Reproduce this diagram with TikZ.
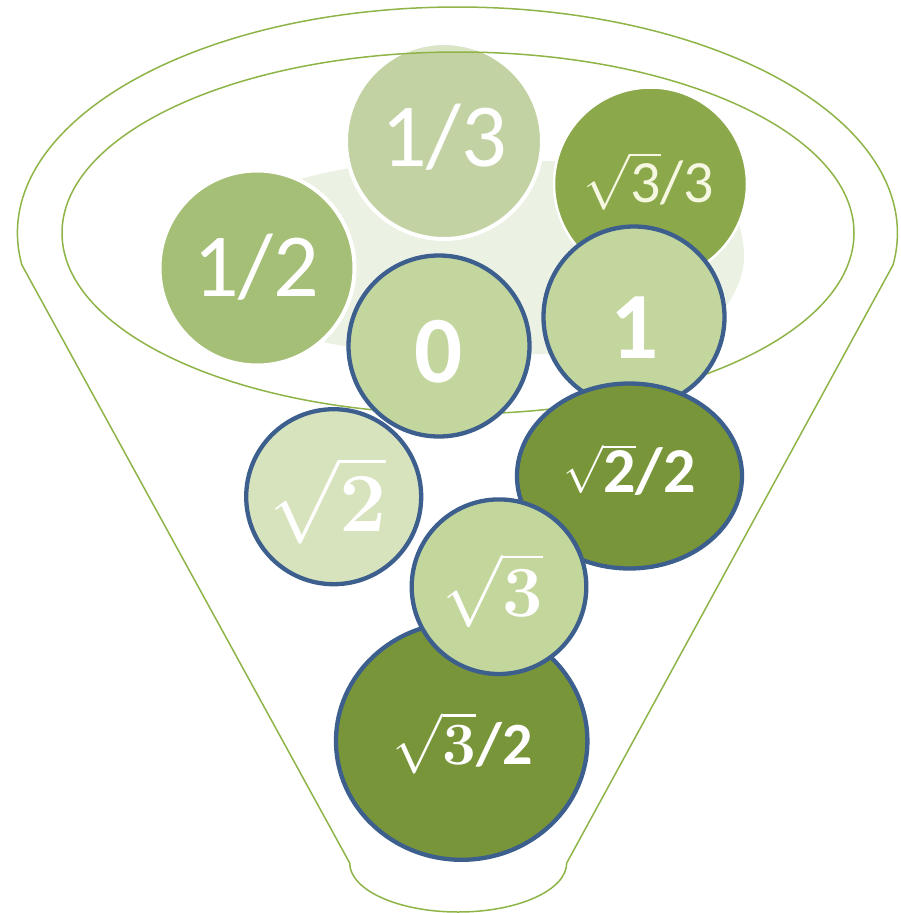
\documentclass[tikz,border=0pt]{standalone}
\usepackage{fix-cm}
\usepackage{fontspec}
\newfontfamily\carl{Carlito}
\usetikzlibrary{shapes.geometric}
\definecolor{fline}{RGB}{142,180,72}
\definecolor{bblue}{RGB}{60,95,142}
\definecolor{blobc}{RGB}{235,241,227}
\definecolor{cA}{RGB}{194,210,163}
\definecolor{cB}{RGB}{139,168,75}
\definecolor{cC}{RGB}{166,191,119}
\definecolor{cD}{RGB}{195,214,158}
\definecolor{cE}{RGB}{120,149,57}
\definecolor{cF}{RGB}{215,227,189}
\definecolor{cG}{RGB}{195,214,156}
\definecolor{cream}{RGB}{245,247,225}
\newcommand\ct[3]{\smash{\raisebox{\dimexpr-0.316em-#2pt\relax}{\kern#1pt\kern#1pt#3}}}
\tikzset{
  ball/.style={circle, inner sep=0pt, outer sep=0pt, text=white},
  wball/.style={ball, draw=white, line width=4pt},
  bball/.style={ball, draw=bblue, line width=4.3pt},
  bell/.style={ellipse, inner sep=0pt, outer sep=0pt, text=white, draw=bblue, line width=4.3pt},
  funnel/.style={draw=fline, line width=1.5pt},
}
\begin{document}
\begin{tikzpicture}[x=1pt,y=-1pt]
\useasboundingbox (0,0) rectangle (900,913);
% pale background blob
\fill[blobc] (200,258) .. controls (200,204.5) and (307.5,161) .. (440,161) -- (660,161)
  .. controls (720,161) and (745,220) .. (744,258)
  .. controls (743,300) and (700,354) .. (620,354) -- (440,354)
  .. controls (307.5,354) and (200,311.5) .. (200,258) -- cycle;
% upper balls
\node[wball, fill=cA, minimum size=196pt, font=\carl\fontsize{90}{90}\selectfont] (n13) at (444,141) {\ct{0}{-2.5}{1/3}};
\begin{scope}
  \clip (444,141) circle[radius=98];
  \fill[white, opacity=.4, even odd rule] (0,0) rectangle (900,913) (458,233) ellipse[x radius=396, y radius=181];
\end{scope}
\node[ball, draw=white, line width=2.5pt, fill=cB, text=cream, minimum size=193pt, font=\fontsize{56}{56}\selectfont] (n33) at (650.5,184) {\ct{-1.5}{1}{$\sqrt{\hbox{\carl\fontsize{60}{60}\selectfont 3}}${\carl\fontsize{60}{60}\selectfont/3}}};
\node[wball, fill=cC, minimum size=195pt, font=\carl\fontsize{90}{90}\selectfont] (n12) at (257,268) {\ct{-1}{0}{1/2}};
% funnel
\draw[funnel] (21.9,265) arc[start angle=171.86, end angle=368.14, x radius=440, y radius=226]
  -- (566.7,863) arc[start angle=0, end angle=180, x radius=108.5, y radius=49] -- cycle;
\draw[funnel] (458,233) ellipse[x radius=396, y radius=181];
% lower balls
\node[bball, fill=cD, minimum size=181pt, font=\carl\bfseries\fontsize{95}{95}\selectfont] (n0) at (439,346) {\ct{-0.5}{6}{0}};
\node[bball, fill=cD, minimum size=181pt, font=\carl\bfseries\fontsize{95}{95}\selectfont] (n1) at (634,317) {\ct{0.5}{11}{1}};
\node[bell, fill=cE, minimum width=225pt, minimum height=185pt, font=\fontsize{48}{48}\selectfont] (n22) at (629.5,476) {\ct{0}{0.9}{$\sqrt{\hbox{\carl\bfseries\fontsize{64}{64}\selectfont 2}}${\carl\bfseries\fontsize{64}{64}\selectfont/2}}};
\node[bball, fill=cF, minimum size=175pt, font=\fontsize{84}{84}\selectfont] (n2) at (333.7,496.7) {\ct{-6}{8}{$\sqrt{\hbox{\bfseries 2}}$}};
\node[bell, fill=cE, minimum width=251.4pt, minimum height=237.6pt, font=\fontsize{60}{60}\selectfont] (n32) at (461.7,741) {\ct{1}{5}{$\sqrt{\hbox{\bfseries 3}}${\carl\bfseries/2}}};
\node[bball, fill=cG, minimum size=174.6pt, font=\fontsize{72}{72}\selectfont] (n3) at (499,586.7) {\ct{-6}{7}{$\sqrt{\hbox{\bfseries 3}}$}};
\end{tikzpicture}
\end{document}
